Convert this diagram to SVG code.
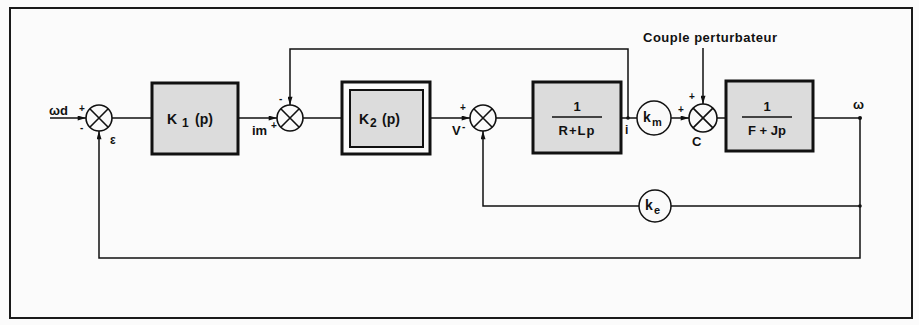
<svg xmlns="http://www.w3.org/2000/svg" width="919" height="325" viewBox="0 0 919 325">
<style>
.frame{fill:none;stroke:#1a1a1a;stroke-width:2}
.blk{fill:#dcdcdc;stroke:#111;stroke-width:3}
.sum{fill:#fafafa;stroke:#111;stroke-width:1.6}
.x{stroke:#111;stroke-width:1.6}
.gain{fill:#fafafa;stroke:#111;stroke-width:1.5}
.w{fill:none;stroke:#111;stroke-width:1.5}
.t{font-family:"Liberation Sans",Arial,sans-serif;font-weight:bold;fill:#111}
.s{font-family:"Liberation Sans",Arial,sans-serif;font-weight:bold;fill:#111;font-size:10px}
</style>
<defs>
<marker id="ah" viewBox="0 0 10 6" refX="10" refY="3" markerWidth="9" markerHeight="5" markerUnits="userSpaceOnUse" orient="auto">
<path d="M0,0 L10,3 L0,6 z" fill="#111"/>
</marker>
</defs>
<rect x="0" y="0" width="919" height="325" fill="#fbfbfb"/>
<rect class="frame" x="10" y="8" width="902" height="310"/>

<g id="connectors">
<line class="w" x1="50" y1="118" x2="86" y2="118" marker-end="url(#ah)"/>
<line class="w" x1="112" y1="118" x2="152" y2="118"/>
<line class="w" x1="238" y1="118" x2="277" y2="118" marker-end="url(#ah)"/>
<path class="w" d="M628,118 V49 H290 V105" marker-end="url(#ah)"/>
<line class="w" x1="303" y1="118" x2="342" y2="118"/>
<line class="w" x1="430" y1="118" x2="470" y2="118" marker-end="url(#ah)"/>
<line class="w" x1="496" y1="118" x2="533" y2="118"/>
<line class="w" x1="621" y1="118" x2="637" y2="118"/>
<line class="w" x1="671" y1="118" x2="689" y2="118" marker-end="url(#ah)"/>
<line class="w" x1="717" y1="118" x2="726" y2="118"/>
<line class="w" x1="813" y1="118" x2="860" y2="118"/>
<path class="w" d="M860,118 V258 H99 V131" marker-end="url(#ah)"/>
<path class="w" d="M860,206 H671"/>
<path class="w" d="M639,206 H483 V131" marker-end="url(#ah)"/>
<path class="w" d="M703,48 V104" marker-end="url(#ah)"/>
<circle cx="628" cy="118" r="1.8" fill="#111"/>
<circle cx="860" cy="118" r="2" fill="#111"/>
<circle cx="860" cy="206" r="1.8" fill="#111"/>
</g>

<g id="input">
<text class="t" x="49" y="115" font-size="13">ωd</text>
</g>

<g id="sum1">
<circle class="sum" cx="99" cy="118" r="13"/>
<path class="x" d="M89.8,108.8 L108.2,127.2 M108.2,108.8 L89.8,127.2"/>
<text class="s" x="79" y="112">+</text>
<text class="s" x="80" y="131">-</text>
<text class="t" x="110" y="144" font-size="12">ε</text>
</g>

<g id="K1">
<rect class="blk" x="152" y="83" width="86" height="71"/>
<text class="t" x="167" y="124" font-size="14">K</text>
<text class="t" x="182" y="127" font-size="12">1</text>
<text class="t" x="195" y="124" font-size="14">(p)</text>
</g>

<g id="sum2">
<circle class="sum" cx="290" cy="118" r="13"/>
<path class="x" d="M280.8,108.8 L299.2,127.2 M299.2,108.8 L280.8,127.2"/>
<text class="s" x="279" y="102">-</text>
<text class="t" x="252" y="135" font-size="13">im</text>
<text class="s" x="271" y="129">+</text>
</g>

<g id="K2">
<rect x="342" y="82" width="88" height="72" fill="#fafafa" stroke="#111" stroke-width="3"/>
<rect x="350" y="90" width="73" height="57" fill="#dcdcdc" stroke="#111" stroke-width="2"/>
<text class="t" x="359" y="124" font-size="14">K</text>
<text class="t" x="370" y="127" font-size="12">2</text>
<text class="t" x="382" y="124" font-size="14">(p)</text>
</g>

<g id="sum3">
<circle class="sum" cx="483" cy="118" r="13"/>
<path class="x" d="M473.8,108.8 L492.2,127.2 M492.2,108.8 L473.8,127.2"/>
<text class="s" x="460" y="111">+</text>
<text class="t" x="452" y="135" font-size="13">V</text>
<text class="s" x="462" y="130">-</text>
</g>

<g id="G1">
<rect class="blk" x="533" y="82" width="88" height="71"/>
<text class="t" x="577" y="111" font-size="13" text-anchor="middle">1</text>
<line x1="552" y1="117" x2="602" y2="117" stroke="#111" stroke-width="1.3"/>
<text class="t" x="577" y="135" font-size="13" text-anchor="middle" letter-spacing="1">R+Lp</text>
<text class="t" x="625" y="134" font-size="12">i</text>
</g>

<g id="km">
<circle class="gain" cx="654" cy="118" r="17"/>
<text class="t" x="643" y="122" font-size="14">k</text>
<text class="t" x="652" y="126" font-size="11">m</text>
</g>

<g id="sum4">
<circle class="sum" cx="703" cy="118" r="14"/>
<path class="x" d="M693.1,108.1 L712.9,127.9 M712.9,108.1 L693.1,127.9"/>
<text class="s" x="689" y="100">+</text>
<text class="s" x="678" y="113">+</text>
<text class="t" x="692" y="146" font-size="13">C</text>
<text class="t" x="643" y="42" font-size="13" letter-spacing="0.5">Couple perturbateur</text>
</g>

<g id="G2">
<rect class="blk" x="726" y="81" width="87" height="70"/>
<text class="t" x="767" y="111" font-size="13" text-anchor="middle">1</text>
<line x1="742" y1="117" x2="792" y2="117" stroke="#111" stroke-width="1.3"/>
<text class="t" x="767" y="135" font-size="13" text-anchor="middle">F + Jp</text>
</g>

<g id="output">
<text class="t" x="853" y="109" font-size="13">ω</text>
</g>

<g id="ke">
<circle class="gain" cx="655" cy="206" r="16"/>
<text class="t" x="645" y="210" font-size="14">k</text>
<text class="t" x="654" y="214" font-size="11">e</text>
</g>
</svg>
